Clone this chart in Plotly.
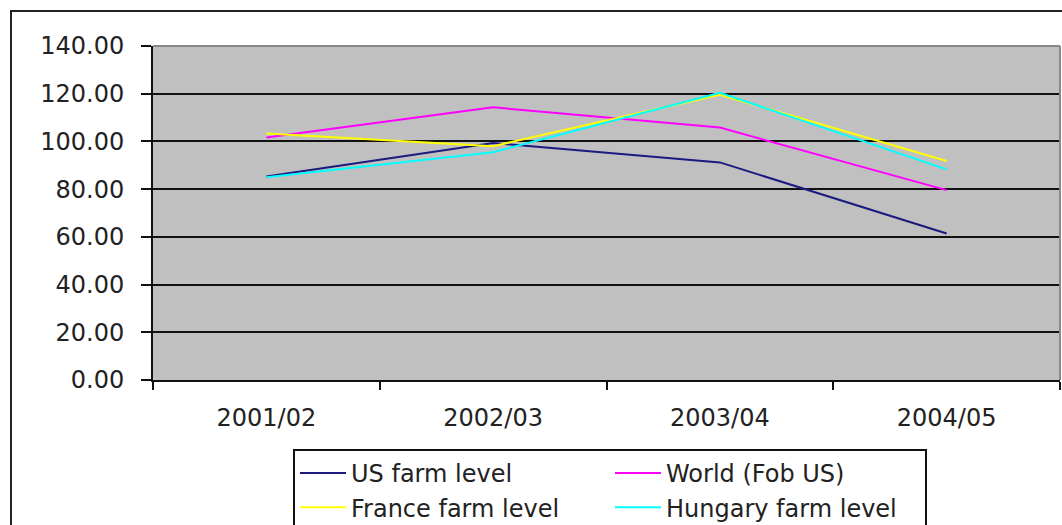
import plotly.graph_objects as go

categories = ["2001/02", "2002/03", "2003/04", "2004/05"]
us_farm = [85.3, 99.3, 91.2, 61.4]
world_fob = [101.6, 114.3, 105.8, 79.6]
france_farm = [103.3, 98.0, 119.6, 91.8]
hungary_farm = [85.0, 95.5, 120.4, 88.3]
y_ticks = [0, 20, 40, 60, 80, 100, 120, 140]

series = [
    ("US farm level", us_farm, "#1a1a80"),
    ("World (Fob US)", world_fob, "#ff00ff"),
    ("France farm level", france_farm, "#ffff00"),
    ("Hungary farm level", hungary_farm, "#00ffff"),
]

FONT = "DejaVu Sans"
FS = 24

fig = go.Figure()
for name, vals, col in series:
    fig.add_trace(go.Scatter(x=categories, y=vals, name=name, mode="lines",
                             line=dict(color=col, width=2)))

W, H = 1062, 525
L, R, T, B = 153, 2, 46, 145
pw, ph = W - L - R, H - T - B

def px_x(x):
    return (x - L) / pw

def px_y(y):
    return (H - B - y) / ph

fig.update_layout(
    width=W, height=H,
    margin=dict(l=L, r=R, t=T, b=B),
    paper_bgcolor="white",
    plot_bgcolor="#c0c0c0",
    font=dict(family=FONT, size=FS, color="#222"),
    showlegend=True,
    legend=dict(
        orientation="h",
        xref="container", yref="container",
        x=293 / W, xanchor="left",
        y=1 - 449 / H, yanchor="top",
        entrywidth=254, entrywidthmode="pixels",
        itemwidth=46,
        bgcolor="white",
        bordercolor="#111", borderwidth=2,
        font=dict(family=FONT, size=FS, color="#222"),
        traceorder="normal",
    ),
    xaxis=dict(
        type="category",
        tickson="boundaries",
        ticks="outside", ticklen=8, tickwidth=2, tickcolor="#111",
        showline=True, linecolor="#111", linewidth=2,
        showgrid=False,
        ticklabelstandoff=15,
        tickfont=dict(family=FONT, size=FS, color="#222"),
        range=[-0.5, 3.5],
        fixedrange=True,
    ),
    yaxis=dict(
        range=[0, 140],
        tickvals=y_ticks,
        tickformat=".2f",
        ticks="outside", ticklen=10, tickwidth=2, tickcolor="#111",
        showline=True, linecolor="#111", linewidth=2,
        showgrid=True, gridcolor="#111", gridwidth=2,
        zeroline=False,
        ticklabelstandoff=12,
        tickfont=dict(family=FONT, size=FS, color="#222"),
        fixedrange=True,
    ),
    shapes=[
        dict(type="rect", xref="paper", yref="paper",
             x0=px_x(11), x1=px_x(1070), y0=px_y(540), y1=px_y(11),
             line=dict(color="#222", width=2), fillcolor="rgba(0,0,0,0)", layer="below"),
        dict(type="line", xref="paper", yref="paper", x0=0, x1=1, y0=1, y1=1,
             line=dict(color="#888", width=2), layer="above"),
        dict(type="line", xref="paper", yref="paper", x0=1, x1=1, y0=0, y1=1,
             line=dict(color="#888", width=2), layer="above"),
    ],
)

fig.write_html("out.html", config={"displayModeBar": False},
               post_script="document.body.style.margin='0';document.body.style.padding='0';")
